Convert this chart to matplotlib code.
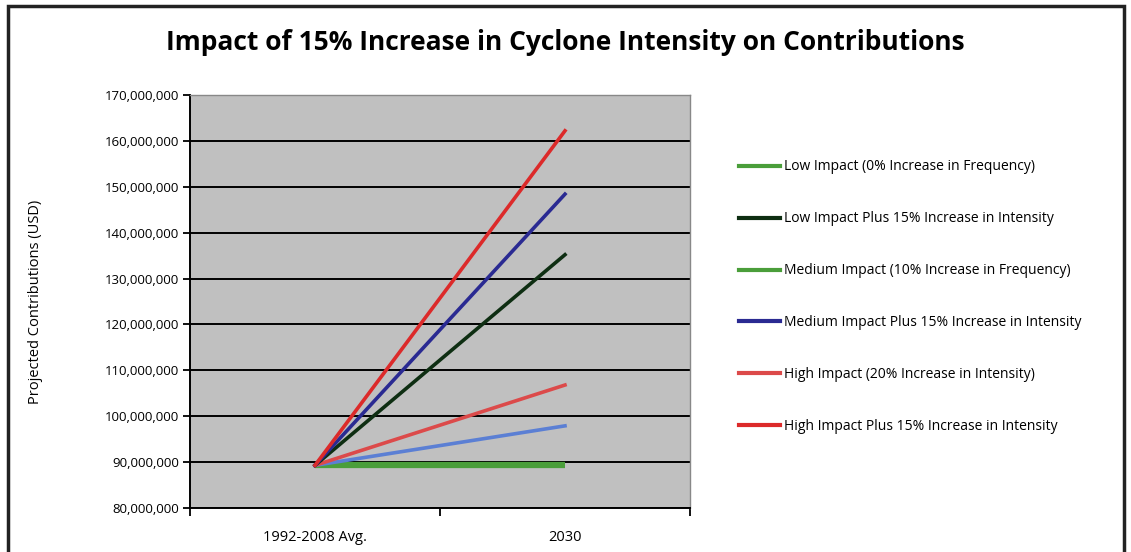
import matplotlib
matplotlib.use("Agg")
import matplotlib.pyplot as plt
from matplotlib.lines import Line2D
from matplotlib.patches import Rectangle
from matplotlib.ticker import FuncFormatter, FixedLocator

categories = ["1992-2008 Avg.", "2030"]
series_names = [
    "Low Impact (0% Increase in Frequency)",
    "Low Impact Plus 15% Increase in Intensity",
    "Medium Impact (10% Increase in Frequency)",
    "Medium Impact Plus 15% Increase in Intensity",
    "High Impact (20% Increase in Intensity)",
    "High Impact Plus 15% Increase in Intensity",
]
low_impact = [89300000, 89300000]
low_plus = [89300000, 135200000]
medium_impact = [89300000, 97900000]
medium_plus = [89300000, 148400000]
high_impact = [89300000, 106800000]
high_plus = [89300000, 162200000]
yticks = list(range(80000000, 170000001, 10000000))

fig = plt.figure(figsize=(11.31, 5.52), dpi=100)
fig.patch.set_facecolor("white")
fig.patches.append(Rectangle((8/1131, -0.1), (1124-8)/1131, 1 - 6/552 + 0.1,
                             transform=fig.transFigure, fill=False,
                             edgecolor="#222222", linewidth=2.5))

ax = fig.add_axes([190/1131, 1 - 508/552, 500/1131, (508-95)/552])
ax.set_facecolor("#c0c0c0")
x = [0, 1]
lw = 2.6
ax.plot(x, low_impact, color="#4a9e3a", lw=4.5, solid_capstyle="butt", zorder=3)
ax.plot(x, medium_impact, color="#5b7fd4", lw=lw, zorder=3)
ax.plot(x, high_impact, color="#dc4a4a", lw=lw, zorder=3)
ax.plot(x, low_plus, color="#0e2e12", lw=lw, zorder=3)
ax.plot(x, medium_plus, color="#2a2a92", lw=lw, zorder=3)
ax.plot(x, high_plus, color="#dc2a2a", lw=lw, zorder=3)

ax.set_xlim(-0.5, 1.5)
ax.set_ylim(80000000, 170000000)
ax.yaxis.set_major_locator(FixedLocator(yticks))
ax.yaxis.set_major_formatter(FuncFormatter(lambda v, p: f"{int(v):,}"))
ax.grid(axis="y", color="black", lw=1.4, zorder=1)
ax.set_axisbelow(True)

ax.set_xticks([-0.5, 0.5, 1.5])
ax.set_xticklabels([])
ax.set_xticks([0, 1], minor=True)
ax.set_xticklabels(categories, minor=True, fontsize=10.5, family="Open Sans")
ax.tick_params(axis="x", which="minor", length=0, pad=16)
ax.tick_params(axis="x", which="major", direction="out", length=6, width=1.3)
ax.tick_params(axis="y", direction="out", length=5, width=1.3, labelsize=9.5, pad=3)
for lab in ax.get_yticklabels():
    lab.set_family("Open Sans")

for s in ["left", "bottom"]:
    ax.spines[s].set_color("black")
    ax.spines[s].set_linewidth(1.4)
for s in ["top", "right"]:
    ax.spines[s].set_color("#888888")
    ax.spines[s].set_linewidth(1.0)

ax.set_ylabel("Projected Contributions (USD)", fontsize=10.5, family="Open Sans", labelpad=44)

fig.text(565/1131, 1 - 43/552, "Impact of 15% Increase in Cyclone Intensity on Contributions",
         ha="center", va="center", fontsize=19, fontweight="bold", family="Open Sans")

colors_legend = ["#4a9e3a", "#0e2e12", "#4a9e3a", "#2a2a92", "#dc4a4a", "#dc2a2a"]
handles = [Line2D([], [], color=c, lw=3) for c in colors_legend]
leg = fig.legend(handles, series_names, loc="upper left",
                 bbox_to_anchor=(726/1131, 1 - 147/552), frameon=False,
                 prop={"family": "Open Sans", "size": 10}, labelspacing=2.66,
                 handlelength=3.0, handletextpad=0.3)

fig.savefig("out.png", dpi=100)
